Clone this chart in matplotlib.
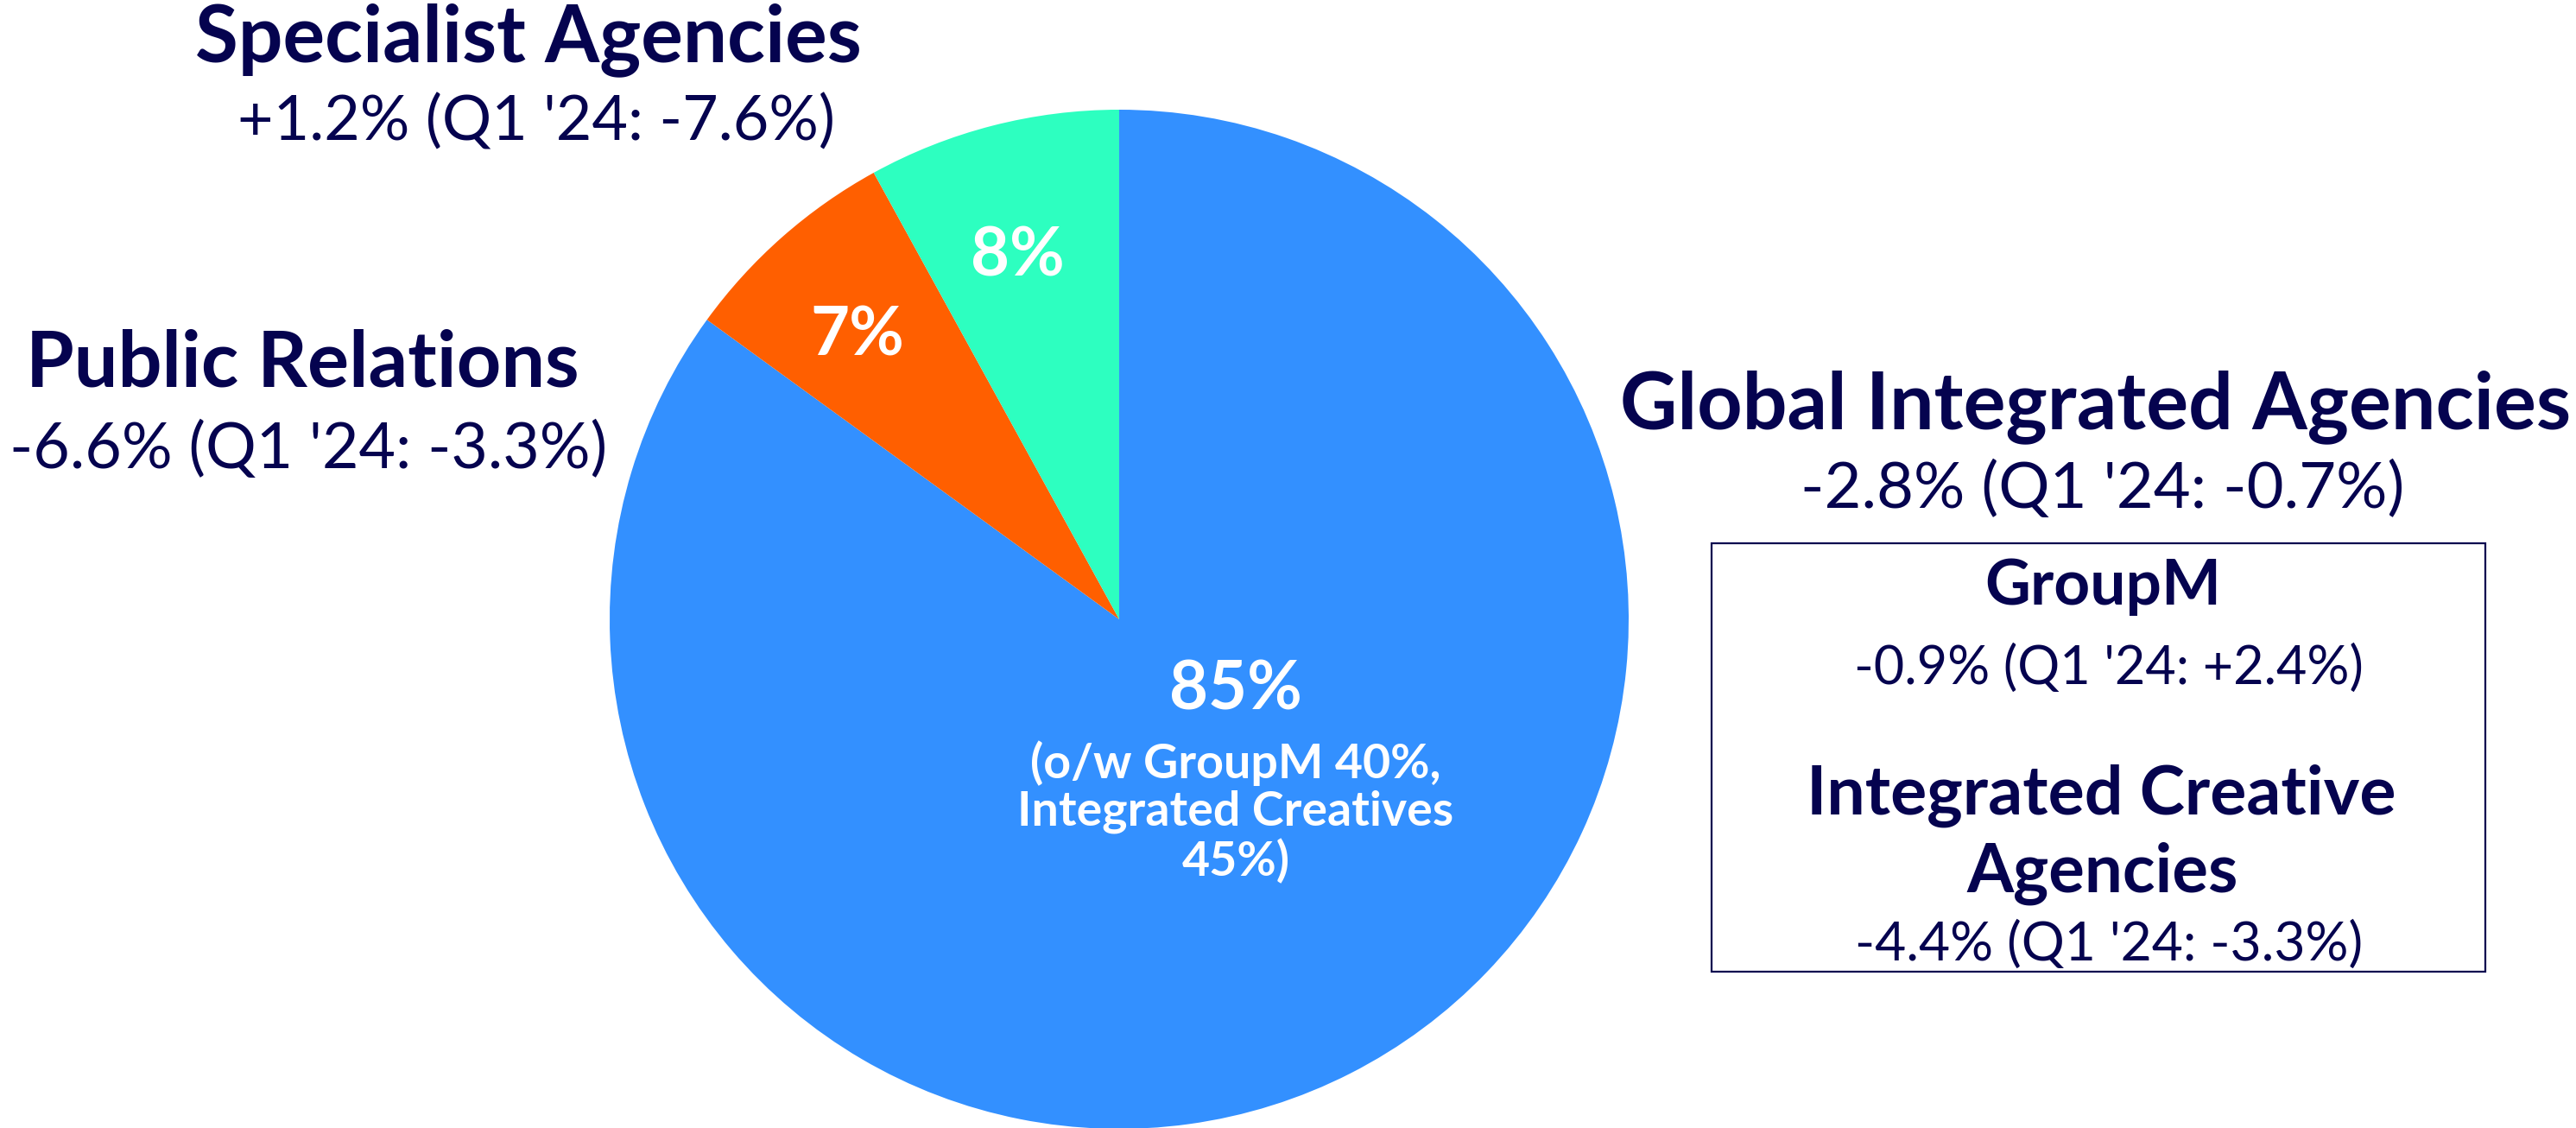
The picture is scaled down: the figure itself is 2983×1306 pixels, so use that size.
import matplotlib.pyplot as plt
from matplotlib.patches import Rectangle

# data
segments = ["Global Integrated Agencies", "Public Relations", "Specialist Agencies"]
shares = [85, 7, 8]
growth = ["-2.8% (Q1 '24: -0.7%)", "-6.6% (Q1 '24: -3.3%)", "+1.2% (Q1 '24: -7.6%)"]
sub_names = ["GroupM", "Integrated Creative", "Agencies"]
sub_growth = ["-0.9% (Q1 '24: +2.4%)", "-4.4% (Q1 '24: -3.3%)"]
gia_note = "(o/w GroupM 40%,\nIntegrated Creatives\n45%)"

colors = ["#3390FF", "#FF5F00", "#2DFFC0"]
navy = "#05034F"
W, H = 2983, 1306
plt.rcParams["font.family"] = ["Lato", "DejaVu Sans"]

fig = plt.figure(figsize=(W / 100, H / 100), dpi=100)
ax = fig.add_axes([0, 0, 1, 1])

cx, cy, r = 1296, H - 717, 590
ax.pie(shares, colors=colors, startangle=90, counterclock=False,
       center=(cx, cy), radius=r, frame=True,
       wedgeprops=dict(linewidth=0))
ax.set_xlim(0, W); ax.set_ylim(0, H)
ax.set_aspect("equal")
ax.axis("off")
renderer = fig.canvas.get_renderer()

def label(x, yb, s, width, weight):
    # place text on a baseline (pixels from top) and scale it to a target width
    t = ax.text(x, H - yb, s, ha="center", va="baseline", color=navy,
                fontsize=40, fontweight=weight)
    w = t.get_window_extent(renderer).width
    t.set_fontsize(40 * width / w)
    return t

# slice labels
ax.text(1431, H - 799, f"{shares[0]}%", color="white", fontsize=56, fontweight="bold",
        ha="center", va="center")
ax.text(1431, H - 940, gia_note, color="white", fontsize=40, fontweight="bold",
        ha="center", va="center", linespacing=1.12)
ax.text(993, H - 390, f"{shares[1]}%", color="white", fontsize=56, fontweight="bold",
        ha="center", va="center")
ax.text(1178, H - 297, f"{shares[2]}%", color="white", fontsize=56, fontweight="bold",
        ha="center", va="center")

# outer labels
label(612, 71, segments[2], 771, "bold")
label(621, 162, growth[2], 693, "normal")
label(350, 448, segments[1], 640, "bold")
label(357, 542, growth[1], 693, "normal")
label(2427, 496, segments[0], 1101, "bold")
label(2435, 588, growth[0], 700, "normal")

# sub-segment box
bx0, bx1, by0, by1 = 1982, 2878, 629, 1125
ax.add_patch(Rectangle((bx0, H - by1), bx1 - bx0, by1 - by0, fill=False,
                       edgecolor=navy, linewidth=1.6))
label(2435, 700, sub_names[0], 274, "bold")
label(2442, 792, sub_growth[0], 590, "normal")
label(2433, 943, sub_names[1], 683, "bold")
label(2435, 1033, sub_names[2], 314, "bold")
label(2442, 1112, sub_growth[1], 590, "normal")

fig.savefig("out.png", dpi=100, facecolor="white")
